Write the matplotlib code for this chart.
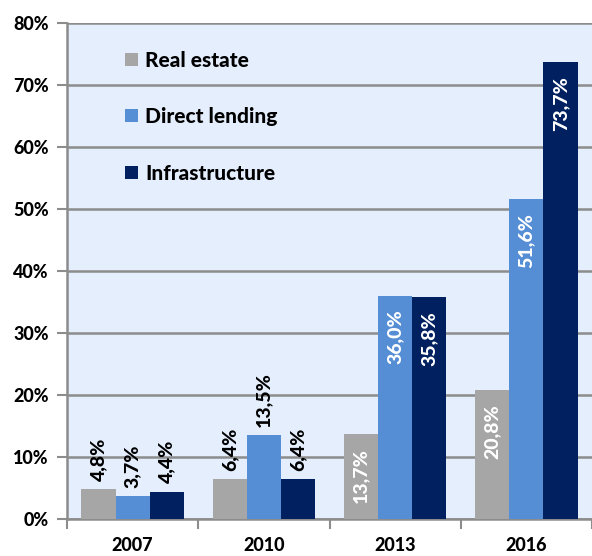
import numpy as np
import matplotlib.pyplot as plt

plt.rcParams['font.family'] = ['Lato', 'DejaVu Sans']

years = ['2007', '2010', '2013', '2016']
real_estate = [4.8, 6.4, 13.7, 20.8]
direct_lending = [3.7, 13.5, 36.0, 51.6]
infrastructure = [4.4, 6.4, 35.8, 73.7]
y_ticks = [0, 10, 20, 30, 40, 50, 60, 70, 80]

series = [('Real estate', real_estate, '#a6a6a6'),
          ('Direct lending', direct_lending, '#558ed5'),
          ('Infrastructure', infrastructure, '#002060')]

fw = 'black'
fig = plt.figure(figsize=(5.92, 5.56), dpi=100)
ax = fig.add_axes([67/592, 37/556, 525/592, 496/556])
ax.set_facecolor('#e4eefc')

x = np.arange(len(years))
w = 0.26
for i, (name, vals, col) in enumerate(series):
    pos = x + (i - 1) * w
    bars = ax.bar(pos, vals, w, color=col, label=name, zorder=3)
    for b, v in zip(bars, vals):
        txt = ('%.1f%%' % v).replace('.', ',')
        cx = b.get_x() + b.get_width() / 2
        if v > 13.6:
            ax.annotate(txt, (cx, v), xytext=(0, -10), textcoords='offset points',
                        rotation=90, ha='center', va='top', color='white',
                        fontsize=14, fontweight=fw, zorder=4)
        else:
            ax.annotate(txt, (cx, v), xytext=(0, 6), textcoords='offset points',
                        rotation=90, ha='center', va='bottom', color='black',
                        fontsize=14, fontweight=fw, zorder=4)

ax.set_xlim(-0.5, -0.5 + 525 / 132.7)
ax.set_ylim(0, 80)
ax.set_yticks(y_ticks)
ax.set_yticklabels(['%d%%' % t for t in y_ticks], fontsize=13, fontweight=fw)
ax.yaxis.grid(True, color='#8c8c8c', linewidth=1.8, zorder=1)
ax.tick_params(axis='y', length=7, width=1.5, color='#8c8c8c', pad=6)

ax.set_xticks(x)
ax.set_xticklabels(years, fontsize=13, fontweight=fw)
ax.set_xticks(np.arange(-0.5, 4, 1), minor=True)
ax.tick_params(axis='x', which='major', length=0, pad=13)
ax.tick_params(axis='x', which='minor', length=7, width=1.5, color='#8c8c8c')

for s in ['top', 'right']:
    ax.spines[s].set_visible(False)
for s in ['left', 'bottom']:
    ax.spines[s].set_color('#8c8c8c')
    ax.spines[s].set_linewidth(1.8)

ax.legend(loc='upper left', bbox_to_anchor=(0.075, 0.982), frameon=False,
          handlelength=0.6, handleheight=0.6, handletextpad=0.35,
          labelspacing=1.8, prop={'weight': fw, 'size': 15})

plt.savefig('out.png', dpi=100)
